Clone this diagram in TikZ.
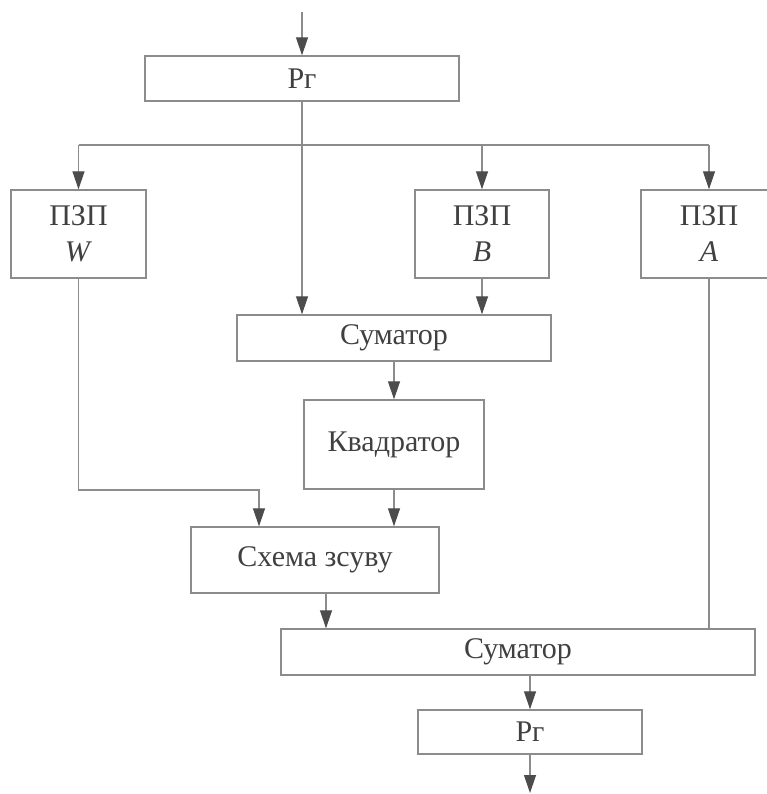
\documentclass[tikz,border=0pt]{standalone}
\usepackage{fontspec}
\setmainfont{Liberation Serif}
\usetikzlibrary{arrows.meta}

\begin{document}
\begin{tikzpicture}[x=1pt, y=-1pt,
	every node/.style={font=\fontsize{30}{36}\selectfont, text=black!75},
	blok/.style={draw=black!45, line width=1.4pt, inner sep=0pt, align=center},
	lin/.style={draw=black!45, line width=1.2pt},
	>={Triangle[length=18pt, width=12pt, color=black!70]}]
	\useasboundingbox (0,0) rectangle (767,794);
	% blocks
	\node[blok, minimum width=314pt, minimum height=45pt] (pr1) at (302,78.5) {Рг};
	\node[blok, minimum width=135pt, minimum height=88pt] (pzpW) at (78.5,234) {ПЗП\\\textit{W}};
	\node[blok, minimum width=134pt, minimum height=88pt] (pzpB) at (482,234) {ПЗП\\\textit{B}};
	\node[blok, minimum width=136pt, minimum height=88pt] (pzpA) at (709,234) {ПЗП\\\textit{A}};
	\node[blok, minimum width=314pt, minimum height=46pt] (sum1) at (394,338) {Суматор};
	\node[blok, minimum width=180pt, minimum height=89pt] (kv) at (394,444.5) {Квадратор};
	\node[blok, minimum width=248pt, minimum height=66pt] (shema) at (315,560) {Схема зсуву};
	\node[blok, minimum width=474pt, minimum height=46pt] (sum2) at (518,652) {Суматор};
	\node[blok, minimum width=224pt, minimum height=44pt] (pr2) at (530,732) {Рг};
	\coordinate (vhid) at (302,12);
	\coordinate (vyhid) at (530,793);
	\coordinate (shyna) at (302,145);
	\coordinate (kut) at (259,490);
	% connections
	\draw[lin,->] (vhid) -- (pr1.north);
	\draw[lin,->] (pr1.south) -- (pr1.south |- sum1.north);
	\draw[lin] (pzpW.north |- shyna) -- (pzpA.north |- shyna);
	\foreach \p in {pzpW,pzpB,pzpA}
		\draw[lin,->] (\p.north |- shyna) -- (\p.north);
	\draw[lin,->] (pzpB.south) -- (pzpB.south |- sum1.north);
	\draw[lin,->] (sum1.south) -- (kv.north);
	\draw[lin,->] (pzpW.south) |- (kut) -- (kut |- shema.north);
	\draw[lin,->] (kv.south) -- (kv.south |- shema.north);
	\draw[lin,->] ([xshift=11pt]shema.south) -- ([xshift=11pt]shema.south |- sum2.north);
	\draw[lin] (pzpA.south) -- (pzpA.south |- sum2.north);
	\draw[lin,->] (pr2.north |- sum2.south) -- (pr2.north);
	\draw[lin,->] (pr2.south) -- (vyhid);
\end{tikzpicture}
\end{document}
